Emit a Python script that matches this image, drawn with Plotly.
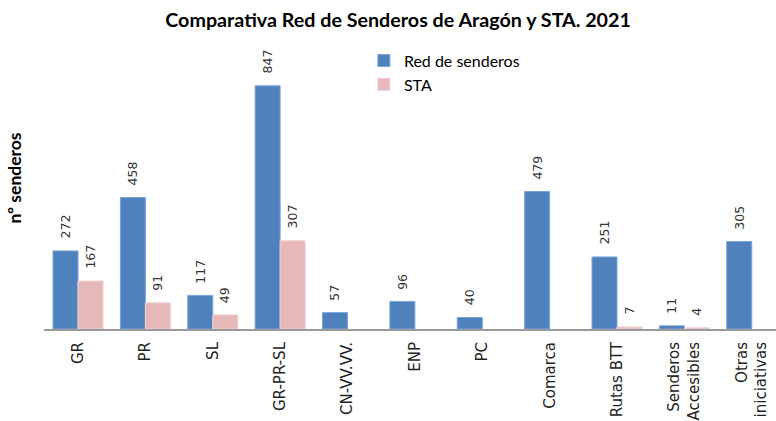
import plotly.graph_objects as go

categories = ["GR", "PR", "SL", "GR-PR-SL", "CN-VV.VV.", "ENP", "PC", "Comarca",
              "Rutas BTT", "Senderos<br>Accesibles", "Otras<br>iniciativas"]
red_senderos = [272, 458, 117, 847, 57, 96, 40, 479, 251, 11, 305]
sta = [167, 91, 49, 307, None, None, None, None, 7, 4, None]

BAR_W = 0.371
idx = list(range(len(categories)))

fig = go.Figure()
fig.add_trace(go.Bar(
    x=idx, y=red_senderos, name="Red de senderos", width=BAR_W, offset=-BAR_W,
    marker=dict(color="#4F81BD", line=dict(color="#7aa3d6", width=1)),
))
fig.add_trace(go.Bar(
    x=idx, y=sta, name="STA", width=BAR_W, offset=0,
    marker=dict(color="#E6B9B8", line=dict(color="#efd0cf", width=1)),
))

for series, sign in ((red_senderos, -1), (sta, 1)):
    for i, v in zip(idx, series):
        if v is None:
            continue
        fig.add_annotation(
            x=i + sign * BAR_W / 2, y=v, text=str(v), textangle=-90,
            showarrow=False, yanchor="bottom", xanchor="center", yshift=10,
            font=dict(family="DejaVu Sans", size=12.5, color="#333333"),
        )

fig.update_layout(
    width=776, height=421,
    margin=dict(l=44, r=0, t=27, b=92),
    paper_bgcolor="white", plot_bgcolor="white",
    barmode="overlay",
    title=dict(text="<b>Comparativa Red de Senderos de Aragón y STA. 2021</b>",
               x=0.513, xref="container", xanchor="center",
               y=0.952, yref="container", yanchor="middle",
               font=dict(family="Lato", size=19.7, color="#000000")),
    legend=dict(x=0.437, y=0.945, xanchor="left", yanchor="top",
                font=dict(family="Lato", size=16, color="#000000"),
                bgcolor="rgba(0,0,0,0)", itemwidth=30, tracegroupgap=0),
    showlegend=True,
)
fig.update_xaxes(
    range=[-0.505, 10.36], tickmode="array", tickvals=idx, ticktext=categories,
    tickangle=-90, ticks="", ticklabelstandoff=5, automargin=False,
    tickfont=dict(family="DejaVu Sans", size=15, color="#222222"),
    showline=True, linecolor="#9a9a9a", linewidth=2, showgrid=False, zeroline=False,
)
fig.update_yaxes(
    range=[0, 1052], showticklabels=False, showgrid=False, zeroline=False,
    showline=False, ticks="", automargin=False,
    title=dict(text="<b>nº senderos</b>", standoff=16,
               font=dict(family="Lato", size=17.5, color="#000000")),
)

fig.write_html("out.html", config={"displayModeBar": False},
               post_script="document.body.style.margin='0';document.body.style.overflow='hidden';")
